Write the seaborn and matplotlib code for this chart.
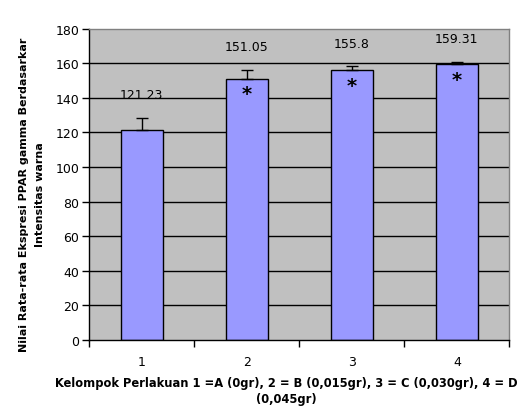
import numpy as np
import pandas as pd
import matplotlib
matplotlib.use("Agg")
import matplotlib.pyplot as plt
import seaborn as sns

# data
groups = ["1", "2", "3", "4"]
means = [121.23, 151.05, 155.8, 159.31]
errors = [7.0, 5.0, 2.3, 1.5]
signif = ["", "*", "*", "*"]
yticks = [0, 20, 40, 60, 80, 100, 120, 140, 160, 180]

sns.set_style("white")
plt.rcParams["font.family"] = ["DejaVu Sans"]
plt.rcParams["text.color"] = "black"
plt.rcParams["xtick.color"] = "black"
plt.rcParams["ytick.color"] = "black"
plt.rcParams["axes.labelcolor"] = "black"

df = pd.DataFrame({"group": groups, "mean": means})

fig = plt.figure(figsize=(5.19, 4.10), dpi=100)
ax = fig.add_axes([0.1715, 0.168, 0.81, 0.76])
ax.set_facecolor("#C0C0C0")

# garis grid horizontal di belakang batang
for y in yticks[1:-1]:
    ax.axhline(y, color="black", lw=1.0, zorder=0)

sns.barplot(data=df, x="group", y="mean", color="#9999FF", saturation=1,
            width=0.4, edgecolor="black", linewidth=1.0, ax=ax, zorder=2)

pos = np.arange(len(groups))
ax.errorbar(pos, means, yerr=[np.zeros(len(errors)), errors], fmt="none",
            ecolor="black", elinewidth=1.0, capsize=4, capthick=1.0, zorder=3)

for x, m, e, s in zip(pos, means, errors, signif):
    ax.text(x, m + e + 13.5, f"{m:g}", ha="center", va="center", fontsize=9)
    if s:
        ax.text(x, m - 8.5, s, ha="center", va="center", fontsize=14,
                fontweight="bold")

ax.set_ylim(0, 180)
ax.set_xlim(-0.5, 3.5)
ax.set_yticks(yticks)
ax.tick_params(axis="y", direction="out", length=5, width=1, labelsize=9,
               left=True, pad=2)
ax.set_xticks(np.arange(-0.5, 4.0, 1.0))
ax.set_xticklabels([])
ax.set_xticks(pos, minor=True)
ax.set_xticklabels(groups, minor=True, fontsize=9)
ax.tick_params(axis="x", which="major", direction="out", length=5, width=1,
               bottom=True)
ax.tick_params(axis="x", which="minor", length=0, pad=11)

for side in ["left", "bottom"]:
    ax.spines[side].set_color("black")
    ax.spines[side].set_linewidth(1.0)
for side in ["top", "right"]:
    ax.spines[side].set_color("#808080")
    ax.spines[side].set_linewidth(1.0)

ax.set_xlabel("")
ax.set_ylabel("Nilai Rata-rata Ekspresi PPAR gamma Berdasarkar\nIntensitas warna",
              fontsize=8.0, fontweight="bold", linespacing=1.7)
ax.yaxis.set_label_coords(-0.105, 0.47)
fig.text(286 / 519, 1 - 392 / 410,
         "Kelompok Perlakuan 1 =A (0gr), 2 = B (0,015gr), 3 = C (0,030gr), 4 = D\n(0,045gr)",
         ha="center", va="center", fontsize=8.3, fontweight="bold",
         linespacing=1.3)

fig.savefig("out.png", dpi=100)
